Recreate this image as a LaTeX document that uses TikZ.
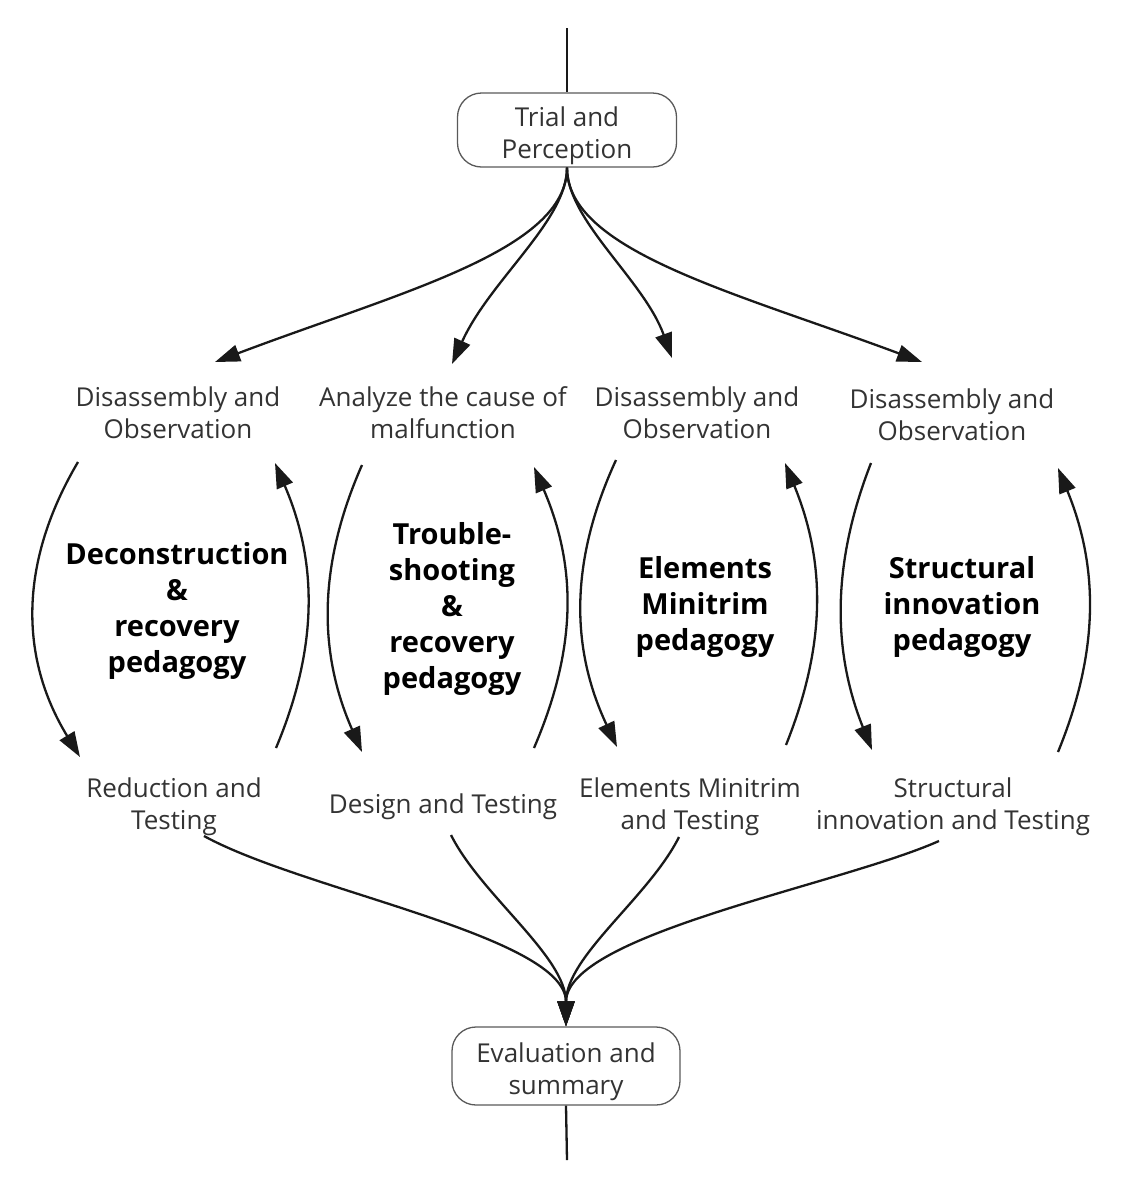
\documentclass[tikz,border=0pt]{standalone}
\usepackage{fontspec}
\setmainfont{Open Sans}
\usetikzlibrary{arrows.meta}
\usetikzlibrary{positioning}

\begin{document}
\begin{tikzpicture}[->, >={Triangle[length=25pt,width=17pt]}, x=1pt, y=-1pt, line width=2.3pt, black!90]
\tikzstyle{every node}=[text=black!80, align=center, inner sep=0pt, font=\fontsize{26}{32}\selectfont]
\tikzstyle{term}=[draw=black!65, line width=1.3pt, rounded corners=24pt, minimum width=219pt, minimum height=74pt]
\tikzstyle{method}=[text=black, font=\bfseries\fontsize{29}{36}\selectfont]
\useasboundingbox (0,0) rectangle (1122,1195);

\node[term]   (trial) at (567,130)  {\rule{0pt}{31pt}Trial and\\Perception};
\node[term, minimum width=228pt, minimum height=78pt] (eval) at (566,1066) {\rule{0pt}{31pt}Evaluation and\\summary};
\coordinate (top) at (567,28);
\coordinate (bot) at (567,1160);

% first row
\node (o1) at (178,413) {Disassembly and\\Observation};
\node (o2) at (443,413) {Analyze the cause of\\malfunction};
\node (o3) at (697,413) {Disassembly and\\Observation};
\node (o4) at (952,415) {Disassembly and\\Observation};

% pedagogies
\node[method] (p1) at (177,611) {Deconstruction\\\&\\recovery\\pedagogy};
\node[method] (p2) at (452,609) {Trouble-\\shooting\\\&\\recovery\\pedagogy};
\node[method] (p3) at (705,607) {Elements\\Minitrim\\pedagogy};
\node[method] (p4) at (962,607) {Structural\\innovation\\pedagogy};

% last row
\node (r1) at (174,807) {Reduction and\\Testing};
\node (r2) at (443,807) {Design and Testing};
\node (r3) at (690,807) {Elements Minitrim\\and Testing};
\node (r4) at (953,807) {Structural\\innovation and Testing};

\draw[-] (top) -- (trial.north);
\draw[-] (eval.south) -- (bot);

\path
(trial.south) edge[controls={+(0,83) and +(185,-70)}]  ([shift={(37,-51)}]o1.center)
(trial.south) edge[controls={+(0,53) and +(38,-84)}]   ([shift={(9,-49)}]o2.center)
(trial.south) edge[controls={+(0,53) and +(-28,-78)}]  ([shift={(-25,-55)}]o3.center)
(trial.south) edge[controls={+(0,83) and +(-188,-70)}] ([shift={(-30,-53)}]o4.center)

([shift={(-100,49)}]o1.center) edge[controls={+(-59,100) and +(-61,-100)}] ([shift={(-94,-50)}]r1.center)
([shift={(102,-59)}]r1.center) edge[controls={+(42,-100) and +(43,100)}]   ([shift={(97,50)}]o1.center)
([shift={(-81,52)}]o2.center)  edge[controls={+(-44,100) and +(-44,-100)}] ([shift={(-81,-55)}]r2.center)
([shift={(91,-59)}]r2.center)  edge[controls={+(43,-100) and +(43,100)}]   ([shift={(91,54)}]o2.center)
([shift={(-81,47)}]o3.center)  edge[controls={+(-46,100) and +(-47,-100)}] ([shift={(-73,-60)}]r3.center)
([shift={(96,-62)}]r3.center)  edge[controls={+(40,-100) and +(41,100)}]   ([shift={(88,50)}]o3.center)
([shift={(-81,48)}]o4.center)  edge[controls={+(-39,100) and +(-40,-100)}] ([shift={(-81,-57)}]r4.center)
([shift={(105,-55)}]r4.center) edge[controls={+(41,-100) and +(41,100)}]   ([shift={(106,53)}]o4.center)

([shift={(30,29)}]r1.center)   edge[controls={+(100,55) and +(0,-90)}]  (eval.north)
([shift={(8,28)}]r2.center)    edge[controls={+(30,60) and +(0,-70)}]   (eval.north)
([shift={(-11,30)}]r3.center)  edge[controls={+(-30,60) and +(0,-70)}]  (eval.north)
([shift={(-14,34)}]r4.center)  edge[controls={+(-99,44) and +(0,-92)}]  (eval.north)
;
\end{tikzpicture}
\end{document}
